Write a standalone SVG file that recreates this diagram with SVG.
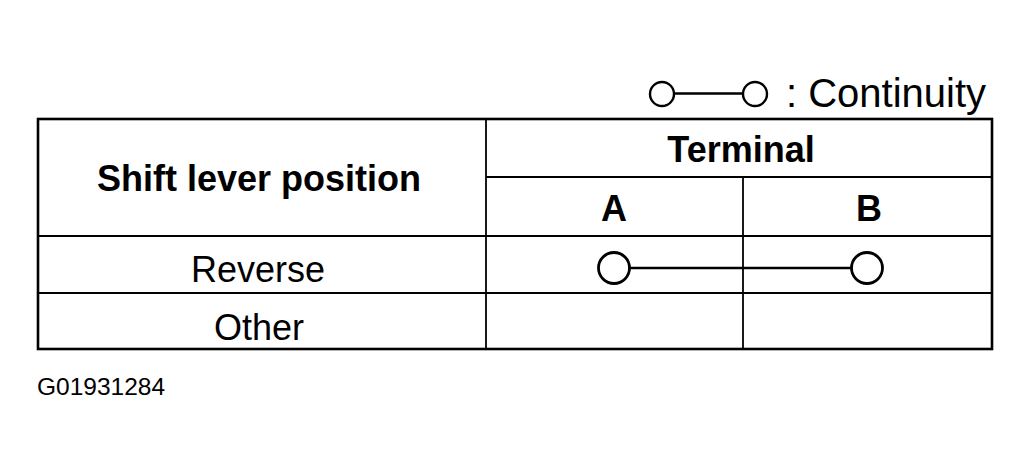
<svg xmlns="http://www.w3.org/2000/svg" width="1031" height="470" viewBox="0 0 1031 470">
  <style>
    .t { font-family: "Liberation Sans", Arial, sans-serif; fill: #000; }
    .b { font-weight: bold; font-size: 36px; text-anchor: middle; }
    .r { font-size: 36px; text-anchor: middle; }
    .outer { fill: none; stroke: #000; stroke-width: 2.6; }
    .inner { fill: none; stroke: #000; stroke-width: 1.8; }
    .term { fill: #fff; stroke: #000; stroke-width: 2.8; }
    .lterm { fill: #fff; stroke: #000; stroke-width: 2.4; }
    .wire { stroke: #000; stroke-width: 2.6; }
  </style>
  <rect width="1031" height="470" fill="#fff"/>

  <g id="legend">
    <line x1="672" y1="93.5" x2="744" y2="93.5" class="wire" stroke-width="2"/>
    <circle cx="662" cy="94" r="12" class="lterm"/>
    <circle cx="755" cy="94" r="12" class="lterm"/>
    <text x="786" y="107" class="t" font-size="40">: Continuity</text>
  </g>

  <g id="table-grid">
    <rect x="38" y="119" width="954" height="230" class="outer"/>
    <line x1="486" y1="119" x2="486" y2="349" class="inner"/>
    <line x1="486" y1="177" x2="992" y2="177" class="inner"/>
    <line x1="743" y1="177" x2="743" y2="349" class="inner"/>
    <line x1="38" y1="236" x2="992" y2="236" class="inner"/>
    <line x1="38" y1="293" x2="992" y2="293" class="inner"/>
  </g>

  <g id="header-position">
    <text x="259" y="191" class="t b">Shift lever position</text>
  </g>
  <g id="header-terminal">
    <text x="741" y="162" class="t b">Terminal</text>
  </g>
  <g id="header-a">
    <text x="614" y="221" class="t b">A</text>
  </g>
  <g id="header-b">
    <text x="869" y="221" class="t b">B</text>
  </g>
  <g id="row-reverse">
    <text x="258" y="282" class="t r">Reverse</text>
  </g>
  <g id="row-other">
    <text x="259" y="340" class="t r">Other</text>
  </g>

  <g id="connectors">
    <line x1="630" y1="268" x2="851" y2="268" class="wire"/>
  </g>
  <g id="terminal-a-reverse">
    <circle cx="614" cy="268" r="15.5" class="term"/>
  </g>
  <g id="terminal-b-reverse">
    <circle cx="867" cy="268" r="15.5" class="term"/>
  </g>

  <g id="figure-id">
    <text x="37" y="395" class="t" font-size="24.5">G01931284</text>
  </g>
</svg>
